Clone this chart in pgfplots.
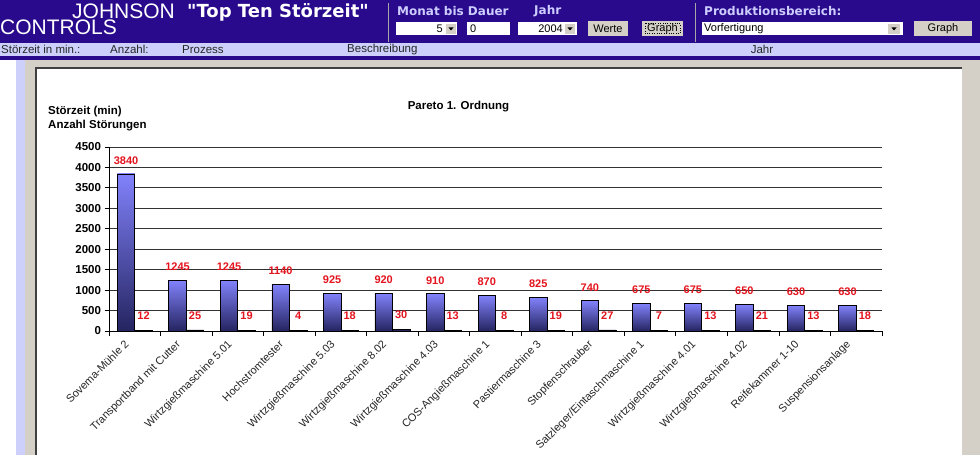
\documentclass[border=0pt]{standalone}
\usepackage{pgfplots}
\pgfplotsset{compat=1.18}
\usepackage{fontspec}
\setmainfont{Liberation Sans}
\newfontfamily\dejavu{DejaVu Sans}
\definecolor{hdr}{RGB}{42,10,140}
\definecolor{hdrtxt}{RGB}{205,205,255}
\definecolor{lav}{RGB}{204,208,250}
\definecolor{winGray}{RGB}{212,208,200}
\definecolor{barTop}{RGB}{130,130,252}
\definecolor{barBot}{RGB}{36,36,96}
\definecolor{lblred}{RGB}{228,20,30}
\pgfkeys{/pgf/number format/1000 sep={}}
\pgfplotsset{
  sbar/.style={draw=black, line width=0.7pt, top color=barTop, bottom color=barBot, bar shift=-8.75pt, forget plot},
}
\begin{document}
\begin{tikzpicture}[x=1pt,y=1pt]
\path[use as bounding box] (0,0) rectangle (980,455);
\begin{scope}[shift={(0pt,455pt)}, y=-1pt]
  \fill[white] (0,0) rectangle (980,455);
  % header
  \fill[hdr] (0,0) rectangle (980,43);
  \fill[lav] (0,43) rectangle (980,56);
  \fill[hdr] (0,56) rectangle (980,60);
  \fill[winGray] (25,60) rectangle (980,455);
  \fill[lav] (16,60) rectangle (25,455);
  \fill[white] (36,68) rectangle (962,455);
  \draw[black!75, line width=1.2pt] (36,455) -- (36,68) -- (962,68);
  % logo
  \node[anchor=base west, text=white, inner sep=0, font=\fontsize{21}{21}\selectfont] at (72,19) {JOHNSON};
  \node[anchor=base west, text=white, inner sep=0, font=\fontsize{21}{21}\selectfont] at (0,35) {CONTROLS};
  \node[anchor=west, text=white, inner sep=0, font=\dejavu\bfseries\fontsize{18}{18}\selectfont] at (187,12) {"Top Ten Störzeit"};
  \draw[gray!70, line width=1pt] (388,3) -- (388,42);
  \draw[gray!70, line width=1pt] (695,3) -- (695,42);
  \node[anchor=west, text=hdrtxt, inner sep=0, font=\dejavu\bfseries\fontsize{12}{12}\selectfont] at (397,11) {Monat bis Dauer};
  \node[anchor=west, text=hdrtxt, inner sep=0, font=\dejavu\bfseries\fontsize{12}{12}\selectfont] at (534,11) {Jahr};
  \node[anchor=west, text=hdrtxt, inner sep=0, font=\dejavu\bfseries\fontsize{12}{12}\selectfont] at (704,11) {Produktionsbereich:};
  % input boxes
  \begin{scope}[shift={(0pt,5pt)}]
  \fill[white] (396,27) rectangle (457,40);
  \fill[winGray] (446,29) rectangle (456,39);
  \fill[black] (448.5,32.5) -- (453.5,32.5) -- (451,35.5) -- cycle;
  \node[anchor=east, inner sep=0, font=\fontsize{11}{11}\selectfont] at (443,33.5) {5};
  \fill[white] (467,27) rectangle (510,40);
  \node[anchor=west, inner sep=0, font=\fontsize{11}{11}\selectfont] at (470,33.5) {0};
  \fill[white] (518,27) rectangle (577,40);
  \fill[winGray] (565,29) rectangle (575,39);
  \fill[black] (567.5,32.5) -- (572.5,32.5) -- (570,35.5) -- cycle;
  \node[anchor=east, inner sep=0, font=\fontsize{11}{11}\selectfont] at (563,33.5) {2004};
  \fill[winGray] (588,26) rectangle (628,41);
  \node[inner sep=0, font=\fontsize{11}{11}\selectfont] at (608,33.5) {Werte};
  \fill[winGray] (642,26) rectangle (683,41);
  \draw[black, dotted] (645,28.5) rectangle (680,38.5);
  \node[inner sep=0, font=\fontsize{11}{11}\selectfont] at (662.5,33.5) {Graph};
  \fill[white] (702,27) rectangle (903,40);
  \fill[winGray] (888,29) rectangle (900,39);
  \fill[black] (891.5,32.5) -- (896.5,32.5) -- (894,35.5) -- cycle;
  \node[anchor=west, inner sep=0, font=\fontsize{11}{11}\selectfont] at (704,33.5) {Vorfertigung};
  \fill[winGray] (914,26) rectangle (972,41);
  \node[inner sep=0, font=\fontsize{11}{11}\selectfont] at (943,33.5) {Graph};
  \end{scope}
  % column header row
  \begin{scope}[every node/.style={inner sep=0, text=black!85, font=\fontsize{11.5}{12}\selectfont}]
    \node[anchor=west] at (1,49.5) {Störzeit in min.:};
    \node[anchor=west] at (110,49.5) {Anzahl:};
    \node[anchor=west] at (182,49.5) {Prozess};
    \node[anchor=west] at (347,49.5) {Beschreibung};
    \node at (762,49.5) {Jahr};
  \end{scope}
  % chart texts
  \node[anchor=west, inner sep=0, font=\bfseries\fontsize{11.5}{12}\selectfont] at (48,111.5) {Störzeit (min)};
  \node[anchor=west, inner sep=0, font=\bfseries\fontsize{11.5}{12}\selectfont] at (48,126) {Anzahl Störungen};
  \node[inner sep=0, font=\bfseries\fontsize{11.5}{12}\selectfont] at (458.5,106.5) {Pareto 1. Ordnung};
\end{scope}
\begin{axis}[
  at={(109pt,124pt)}, anchor=south west,
  scale only axis, width=773pt, height=184pt,
  xmin=-0.5, xmax=14.5, ymin=0, ymax=4500,
  axis x line=bottom, axis y line=left,
  axis line style={-, black, line width=0.9pt},
  ytick={0,500,...,4500},
  ymajorgrids, grid style={black!80, line width=1pt},
  xtick={-0.5,0.5,...,14.5},
  x tick label as interval,
  xticklabels={Sovema-Mühle 2, Transportband mit Cutter, Wirtzgießmaschine 5.01, Hochstromtester, Wirtzgießmaschine 5.03, Wirtzgießmaschine 8.02, Wirtzgießmaschine 4.03, COS-Angießmaschine 1, Pastiermaschine 3, Stopfenschrauber, Satzleger/Eintaschmaschine 1, Wirtzgießmaschine 4.01, Wirtzgießmaschine 4.02, Reifekammer 1-10, Suspensionsanlage},
  tick align=outside, major tick length=4.5pt,
  tick style={black, line width=0.8pt},
  /pgf/number format/assume math mode=true,
  scaled y ticks=false,
  yticklabel style={font=\bfseries\fontsize{11.5}{12}\selectfont, text=black},
  xticklabel style={xshift=-11pt, yshift=1pt, rotate=45, anchor=north east, font=\fontsize{11}{12}\selectfont, text=black!85},
  ybar=0pt, bar width=17.5pt,
  nodes near coords,
  nodes near coords style={font=\bfseries\fontsize{11}{12}\selectfont, text=lblred, inner sep=0pt, anchor=south, yshift=9pt},
  clip=false,
]
% Stoerzeit (min): one bar per plot so each bar gets its own gradient
\addplot[sbar] coordinates {(0,3840)};
\addplot[sbar] coordinates {(1,1245)};
\addplot[sbar] coordinates {(2,1245)};
\addplot[sbar] coordinates {(3,1140)};
\addplot[sbar] coordinates {(4,925)};
\addplot[sbar] coordinates {(5,920)};
\addplot[sbar] coordinates {(6,910)};
\addplot[sbar] coordinates {(7,870)};
\addplot[sbar] coordinates {(8,825)};
\addplot[sbar] coordinates {(9,740)};
\addplot[sbar] coordinates {(10,675)};
\addplot[sbar] coordinates {(11,675)};
\addplot[sbar] coordinates {(12,650)};
\addplot[sbar] coordinates {(13,630)};
\addplot[sbar] coordinates {(14,630)};
% Anzahl Stoerungen
\addplot[draw=black, line width=0.7pt, fill=barBot, bar shift=8.75pt, nodes near coords style={yshift=1.5pt}] coordinates {
(0,12) (1,25) (2,19) (3,4) (4,18) (5,30) (6,13) (7,8) (8,19) (9,27) (10,7) (11,13) (12,21) (13,13) (14,18)};
\end{axis}
\end{tikzpicture}
\end{document}
